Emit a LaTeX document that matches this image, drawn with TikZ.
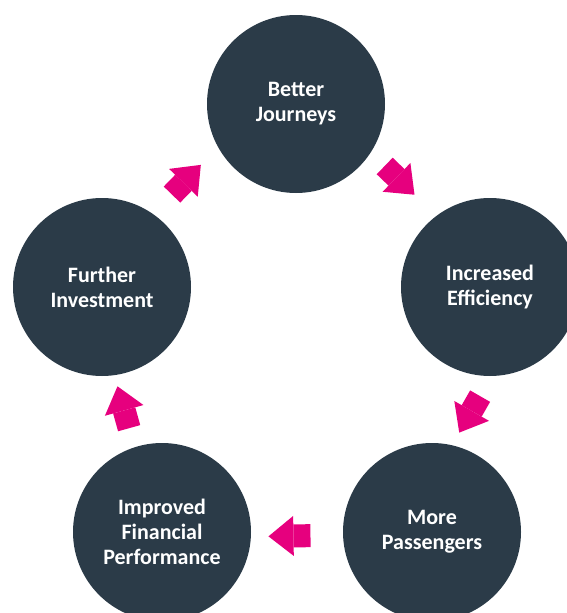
\documentclass[tikz,border=0pt]{standalone}
\usepackage{fontspec}
\setmainfont{Carlito}
\usepackage{tikz}
\usetikzlibrary{arrows.meta,shapes}
\definecolor{slate}{HTML}{2B3B48}
\definecolor{hotpink}{HTML}{E6007E}
\tikzstyle{stage}=[circle, fill=slate
%,draw=white
,minimum size=178pt
,inner sep=0pt
,text=white
,align=center
,font=\bfseries\fontsize{22}{25}\selectfont
]
\tikzstyle{flow} = [draw=hotpink, line width=23pt, -{Triangle[length=25pt,width=40pt,line width=0pt]}]

\begin{document}
\begin{tikzpicture}[x=1pt,y=-1pt]
    \useasboundingbox (0,0) rectangle (566,613);
    % The five stages, going round clockwise
    \foreach \pos/\name/\txt in {{(296,104)/bj/{Better\\Journeys}}, {(490,287)/ie/{Increased\\Efficiency}},
        {(432,532)/mp/{More\\Passengers}}, {(162,532)/ifp/{Improved\\Financial\\Performance}},
        {(102,287)/fi/{Further\\Investment}}}
        \node[stage] (\name) at \pos {\txt};

    % Block arrows from one stage to the next
    \foreach \source/\sa/\dest/\da/\back/\front in {bj/327.5/ie/127.6/19.3/30.3, ie/271.1/mp/77.7/23/14.4,
        mp/182.8/ifp/357.2/32.4/17.4, ifp/108/fi/278.7/19.7/11.4, fi/55.5/bj/209.3/27/24.6}
        \path[flow, shorten <=\back pt, shorten >=\front pt] (\source.\sa) -- (\dest.\da);
\end{tikzpicture}
\end{document}
